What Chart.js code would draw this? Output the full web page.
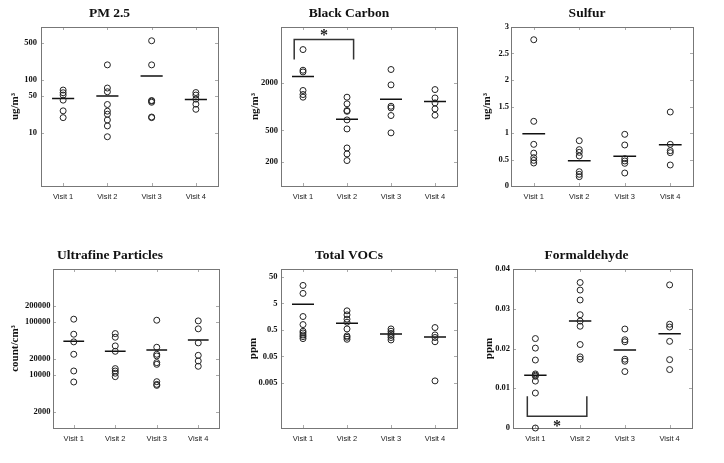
<!DOCTYPE html>
<html>
<head>
<meta charset="utf-8">
<script src="https://cdn.jsdelivr.net/npm/chart.js@4"></script>
<style>
  body { margin: 0; background: #fff; width: 724px; height: 463px; position: relative; overflow: hidden; }
  canvas { position: absolute; }
</style>
</head>
<body>
<canvas id="pm"></canvas>
<canvas id="bc"></canvas>
<canvas id="su"></canvas>
<canvas id="uf"></canvas>
<canvas id="voc"></canvas>
<canvas id="fo"></canvas>
<script>
const visits = ['Visit 1', 'Visit 2', 'Visit 3', 'Visit 4'];

// PM 2.5 (ug/m3), one list per visit
const pm25 = [
  [64.6, 57.5, 51.9, 41.7, 26.2, 19.5],
  [193, 70.5, 60, 34.5, 25.8, 22.6, 17.6, 13.6, 8.5],
  [550, 193, 41, 40, 38, 20, 19.5],
  [58, 52, 43.5, 35, 28]
];
const pm25Means = [44.9, 49.7, 119, 43];
const pm25Ticks = [10, 50, 100, 500];

// Black carbon (ng/m3)
const blackCarbon = [
  [5200, 2860, 2720, 1590, 1414, 1310],
  [1310, 1080, 890, 870, 678, 522, 301, 253, 209],
  [2920, 1870, 1007, 960, 770, 466],
  [1633, 1282, 1110, 933, 776]
];
const blackCarbonMeans = [2380, 692, 1233, 1153];
const blackCarbonTicks = [200, 500, 2000];

// Sulfur (ug/m3)
const sulfur = [
  [2.76, 1.22, 0.786, 0.62, 0.535, 0.484, 0.434],
  [0.855, 0.686, 0.635, 0.566, 0.27, 0.22, 0.176],
  [0.975, 0.774, 0.516, 0.472, 0.428, 0.245],
  [1.396, 0.786, 0.667, 0.629, 0.396]
];
const sulfurMeans = [0.987, 0.478, 0.56, 0.78];
const sulfurTicks = [0, 0.5, 1, 1.5, 2, 2.5, 3];

// Ultrafine particles (count/cm3)
const ultrafine = [
  [113000, 58800, 42200, 24600, 11900, 7380],
  [60500, 51600, 35400, 28000, 13200, 11900, 10800, 9300],
  [108000, 33400, 24600, 22900, 17100, 15900, 7480, 6660, 6370],
  [105000, 74300, 40400, 23500, 18400, 14600]
];
const ultrafineMeans = [43400, 28000, 29700, 45900];
const ultrafineTicks = [2000, 10000, 20000, 100000, 200000];

// Total VOCs (ppm)
const vocs = [
  [24, 12, 1.61, 0.8, 0.448, 0.387, 0.325, 0.281, 0.236],
  [2.64, 1.86, 1.28, 0.98, 0.548, 0.298, 0.265, 0.223],
  [0.548, 0.448, 0.37, 0.31, 0.26, 0.21],
  [0.617, 0.325, 0.26, 0.18, 0.006]
];
const vocMeans = [4.72, 0.9, 0.355, 0.273];
const vocTicks = [0.005, 0.05, 0.5, 5, 50];

// Formaldehyde (ppm)
const formaldehyde = [
  [0.0225, 0.0201, 0.0171, 0.0136, 0.0133, 0.0130, 0.0118, 0.0088, 0],
  [0.0366, 0.0347, 0.0322, 0.0285, 0.0269, 0.0256, 0.0210, 0.0179, 0.0173],
  [0.0249, 0.0222, 0.0217, 0.0173, 0.0168, 0.0142],
  [0.0360, 0.0261, 0.0254, 0.0218, 0.0172, 0.0147]
];
const formaldehydeMeans = [0.0133, 0.0269, 0.0196, 0.0237];
const formaldehydeTicks = [0, 0.01, 0.02, 0.03, 0.04];

// significance brackets: [x from, x to, tip y, bar y, star y]
const bcBracket = [0.8, 2.15, 3890, 6950, 8600];
const foBracket = [0.82, 2.15, 0.008, 0.00295, 0.0013];

// box + inside ticks + star
const framePlugin = {
  id: 'frame',
  beforeDatasetsDraw(chart) {
    const { ctx, chartArea: a, scales } = chart;
    ctx.save();
    ctx.strokeStyle = '#aaa';
    ctx.lineWidth = 1;
    ctx.beginPath();
    scales.x.ticks.forEach(t => {
      const px = Math.round(scales.x.getPixelForValue(t.value)) + 0.5;
      ctx.moveTo(px, a.bottom); ctx.lineTo(px, a.bottom - 3);
      ctx.moveTo(px, a.top); ctx.lineTo(px, a.top + 3);
    });
    scales.y.ticks.forEach(t => {
      const py = Math.round(scales.y.getPixelForValue(t.value)) + 0.5;
      ctx.moveTo(a.left, py); ctx.lineTo(a.left + 3, py);
      ctx.moveTo(a.right, py); ctx.lineTo(a.right - 3, py);
    });
    ctx.stroke();
    ctx.strokeStyle = '#777';
    ctx.strokeRect(Math.round(a.left) + 0.5, Math.round(a.top) + 0.5,
      Math.round(a.right - a.left), Math.round(a.bottom - a.top));
    ctx.restore();
  },
  afterDatasetsDraw(chart, args, opts) {
    const b = opts.bracket;
    if (!b) return;
    const { ctx, scales } = chart;
    ctx.save();
    ctx.fillStyle = '#222';
    ctx.font = 'bold 16px "Liberation Serif"';
    ctx.textAlign = 'center';
    ctx.textBaseline = 'middle';
    const px = scales.x.getPixelForValue((b[0] + b[1]) / 2);
    const py = scales.y.getPixelForValue(b[4]);
    ctx.fillText('*', px, py + 4);
    ctx.restore();
  }
};

function makePanel(id, p) {
  const canvas = document.getElementById(id);
  canvas.width = p.w;
  canvas.height = 210;
  canvas.style.left = p.left + 'px';
  canvas.style.top = p.top + 'px';

  const points = p.values.flatMap((arr, i) => arr.map(v => ({ x: i + 1, y: v })));
  const meanLine = p.means.flatMap((m, i) => [
    { x: i + 0.75, y: m }, { x: i + 1.25, y: m }, { x: i + 1.5, y: null }
  ]);
  const datasets = [
    {
      data: points,
      showLine: false,
      pointStyle: 'circle',
      pointRadius: 3,
      pointBorderWidth: 1,
      pointBorderColor: '#222',
      pointBackgroundColor: 'rgba(0,0,0,0)',
      clip: false
    },
    {
      data: meanLine,
      showLine: true,
      spanGaps: false,
      pointRadius: 0,
      borderColor: '#111',
      borderWidth: 1.5
    }
  ];
  if (p.bracket) {
    const b = p.bracket;
    datasets.push({
      data: [{ x: b[0], y: b[2] }, { x: b[0], y: b[3] }, { x: b[1], y: b[3] }, { x: b[1], y: b[2] }],
      showLine: true,
      pointRadius: 0,
      borderColor: '#333',
      borderWidth: 1.5,
      clip: false
    });
  }

  new Chart(canvas, {
    type: 'scatter',
    data: { datasets },
    options: {
      responsive: false,
      animation: false,
      layout: { padding: { top: 0, left: 0, right: 4, bottom: 0 } },
      plugins: {
        legend: { display: false },
        tooltip: { enabled: false },
        title: {
          display: true,
          text: p.title,
          color: '#111',
          font: { family: 'Liberation Serif', size: 13.5, weight: 'bold' },
          padding: { top: 5, bottom: 5.8 }
        },
        frame: { bracket: p.bracket ? p.bracket : null }
      },
      scales: {
        x: {
          type: 'linear',
          min: 0.5,
          max: 4.5,
          afterBuildTicks: s => { s.ticks = [1, 2, 3, 4].map(v => ({ value: v })); },
          afterFit: s => { s.height = 24; },
          grid: { display: false, drawTicks: false },
          border: { display: false },
          ticks: {
            callback: v => visits[v - 1],
            color: '#222',
            padding: 6,
            maxRotation: 0,
            font: { family: 'Liberation Sans', size: 7.5 }
          }
        },
        y: {
          type: p.type,
          min: p.min,
          max: p.max,
          afterBuildTicks: s => { s.ticks = p.ticks.map(v => ({ value: v })); },
          afterFit: s => { s.width = p.yw; },
          grid: { display: false, drawTicks: false },
          border: { display: false },
          ticks: {
            callback: v => String(v),
            color: '#111',
            padding: p.tp,
            autoSkip: false,
            font: { family: 'Liberation Serif', size: 8.5, weight: 'bold' }
          },
          title: {
            display: true,
            text: p.yTitle,
            color: '#111',
            font: { family: 'Liberation Serif', size: 11, weight: 'bold' },
            padding: { top: p.yt, bottom: 0 }
          }
        }
      }
    },
    plugins: [framePlugin]
  });
}

makePanel('pm', { left: 0, top: 0, w: 223, yw: 41, tp: 4, yt: 8.4, title: 'PM 2.5', yTitle: 'ug/m³',
  values: pm25, means: pm25Means, ticks: pm25Ticks, type: 'logarithmic', min: 1, max: 1000 });
makePanel('bc', { left: 240, top: 0, w: 222, yw: 41, tp: 3, yt: 8.4, title: 'Black Carbon', yTitle: 'ng/m³',
  values: blackCarbon, means: blackCarbonMeans, ticks: blackCarbonTicks, type: 'logarithmic', min: 100, max: 10000,
  bracket: bcBracket });
makePanel('su', { left: 480, top: 0, w: 218, yw: 31, tp: 2, yt: 0.5, title: 'Sulfur', yTitle: 'ug/m³',
  values: sulfur, means: sulfurMeans, ticks: sulfurTicks, type: 'linear', min: 0, max: 3 });
makePanel('uf', { left: 0, top: 242, w: 224, yw: 53, tp: 2.6, yt: 8.4, title: 'Ultrafine Particles', yTitle: 'count/cm³',
  values: ultrafine, means: ultrafineMeans, ticks: ultrafineTicks, type: 'logarithmic', min: 1000, max: 1000000 });
makePanel('voc', { left: 240, top: 242, w: 222, yw: 41, tp: 3.5, yt: 6.7, title: 'Total VOCs', yTitle: 'ppm',
  values: vocs, means: vocMeans, ticks: vocTicks, type: 'logarithmic', min: 0.0001, max: 100 });
makePanel('fo', { left: 480, top: 242, w: 217, yw: 33, tp: 3, yt: 2.4, title: 'Formaldehyde', yTitle: 'ppm',
  values: formaldehyde, means: formaldehydeMeans, ticks: formaldehydeTicks, type: 'linear', min: 0, max: 0.04,
  bracket: foBracket });
</script>
</body>
</html>
